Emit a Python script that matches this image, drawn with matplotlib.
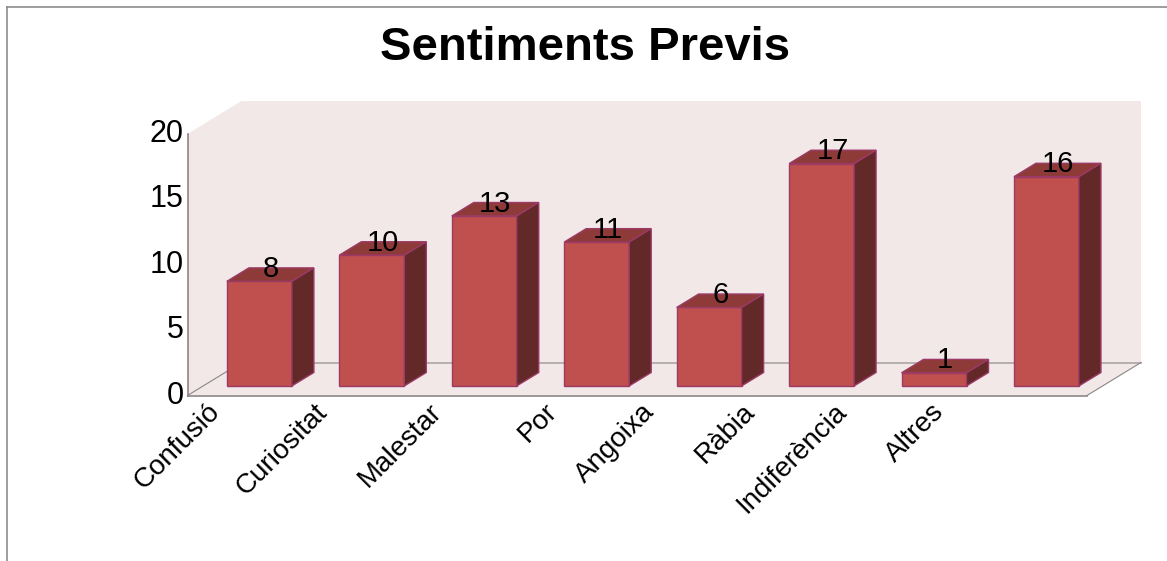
import numpy as np
import matplotlib
matplotlib.use('Agg')
import matplotlib.pyplot as plt
from matplotlib.patches import Polygon

# Values
categories = ['Confusió', 'Curiositat', 'Malestar', 'Por', 'Angoixa', 'Ràbia', 'Indiferència', 'Altres']
values = [8, 10, 13, 11, 6, 17, 1, 16]
yticks = [0, 5, 10, 15, 20]
title = 'Sentiments Previs'
# the rotated labels are not evenly spaced in the original, pixel x of their right end
label_end_px = [224, 331, 446, 561, 659, 759, 851, 948]

W, H = 1167, 561
plt.rcParams['font.family'] = ['Liberation Sans', 'DejaVu Sans']

fig = plt.figure(figsize=(W / 100, H / 100), dpi=100, facecolor='white')
ax = fig.add_axes([187.5 / W, (H - 395.5) / H, 899.5 / W, 261.5 / H])
ax.set_xlim(0, len(categories))
ax.set_ylim(0, 20)
ax.axis('off')

# depth of the 3d box in data units, 1 = back wall
px_x = len(categories) / 899.5
px_y = 20 / 261.5
def proj(x, y, d=0.0):
    return (x + d * 54 * px_x, y + d * 33 * px_y)

def poly(pts, fc, ec='none', lw=0, z=1):
    ax.add_patch(Polygon(pts, closed=True, facecolor=fc, edgecolor=ec, linewidth=lw,
                         zorder=z, clip_on=False, joinstyle='miter'))

n = len(categories)
# side wall, back wall and floor as one shape
poly([proj(0, 0, 0), proj(0, 20, 0), proj(0, 20, 1), proj(n, 20, 1), proj(n, 0, 1), proj(n, 0, 0)], '#f2e8e8')

# floor and axis lines
gray = '#8c8686'
ax.plot(*zip(proj(0, 0, 1), proj(n, 0, 1)), color='#aaa5a5', lw=1.2, zorder=2, clip_on=False)
ax.plot(*zip(proj(n, 0, 0), proj(n, 0, 1)), color=gray, lw=0.8, zorder=2, clip_on=False)
ax.plot(*zip(proj(0, 0, 0), proj(0, 0, 1)), color=gray, lw=0.8, zorder=2, clip_on=False)
ax.plot([0, 0], [0, 20], color=gray, lw=1.2, zorder=3, clip_on=False)
ax.plot([0, n], [0, 0], color=gray, lw=1.2, zorder=3, clip_on=False)

edge = '#9c3a68'
bw = 65 * px_x
d0, d1 = 0.29, 0.29 + 22 / 54
for i, v in enumerate(values):
    c = i + 0.5
    l, r = c - bw / 2, c + bw / 2
    poly([proj(l, 0, d0), proj(l, v, d0), proj(r, v, d0), proj(r, 0, d0)], '#c0504d', edge, 1.0, 4)
    poly([proj(l, v, d0), proj(l, v, d1), proj(r, v, d1), proj(r, v, d0)], '#8e3a38', edge, 1.0, 4)
    poly([proj(r, 0, d0), proj(r, v, d0), proj(r, v, d1), proj(r, 0, d1)], '#632828', edge, 1.0, 4)
    tx, ty = proj(c + 11 * px_x, v + 0.95, d0)
    ax.text(tx, ty, str(v), ha='center', va='center', fontsize=21, color='black', zorder=5)

for t in yticks:
    ax.text(-4 * px_x, t, str(t), ha='right', va='center', fontsize=22, color='black', clip_on=False)

for name, end in zip(categories, label_end_px):
    fig.text((end - 8) / W, 1 - 408 / H, name, rotation=45, ha='right', va='center',
             rotation_mode='anchor', fontsize=20, color='black')

fig.text(585 / W, 1 - 60 / H, title, ha='center', va='baseline', fontsize=34, fontweight='bold', color='black')

# outer frame of the pasted picture
fig.add_artist(plt.Line2D([7 / W, 7 / W], [0, 1 - 7 / H], color='#8c8c8c', lw=1.2))
fig.add_artist(plt.Line2D([7 / W, 1], [1 - 7 / H, 1 - 7 / H], color='#8c8c8c', lw=1.2))

fig.savefig('out.png', dpi=100)
